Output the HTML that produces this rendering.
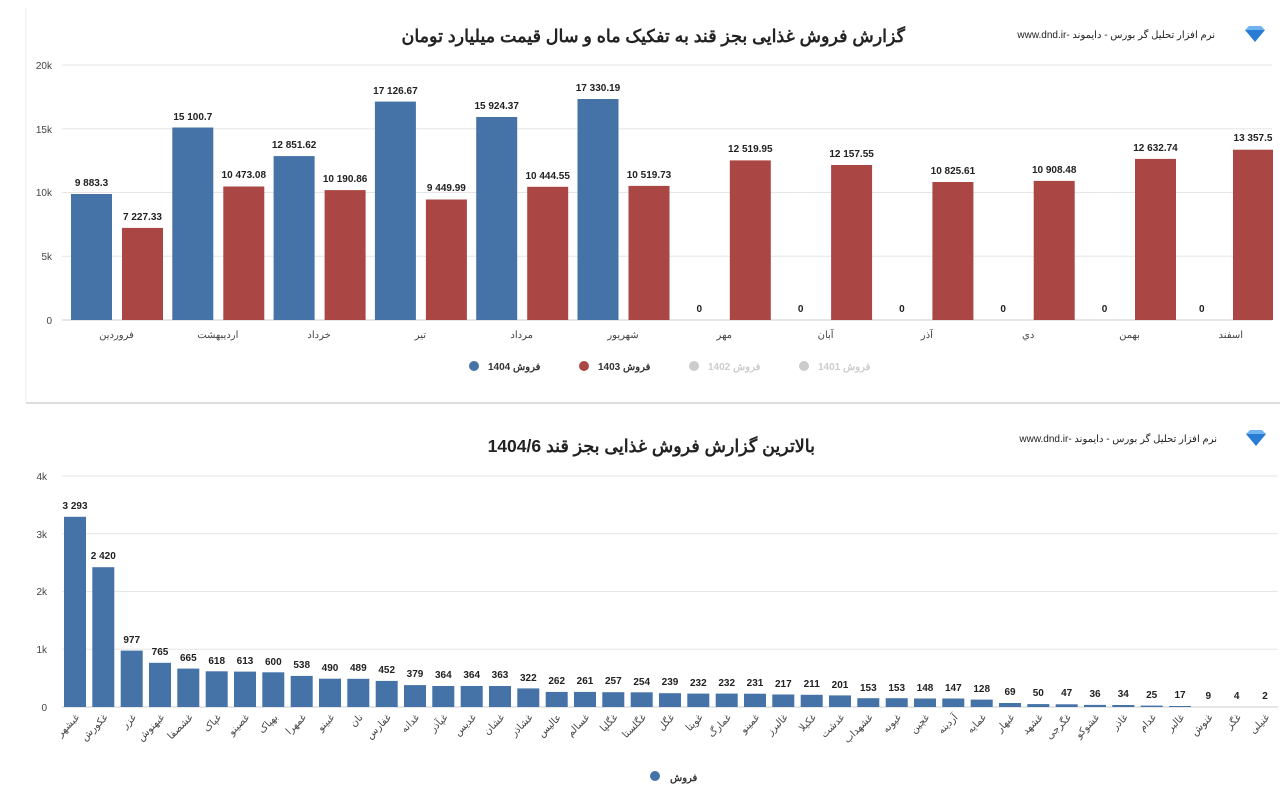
<!DOCTYPE html>
<html><head><meta charset="utf-8">
<style>
body{margin:0;background:#fff;width:1280px;height:804px;overflow:hidden;font-family:"Liberation Sans","Noto Sans CJK SC",sans-serif}
svg{display:block}
.t{font-size:17.5px;font-weight:bold;fill:#222}
.s{font-size:10px;fill:#222}
.v{font-size:10px;font-weight:bold;fill:#222;text-anchor:middle}
.c{font-size:10px;fill:#444;text-anchor:middle}
.y{font-size:10px;fill:#444;text-anchor:end}
.l{font-size:10px;fill:#444;text-anchor:end}
.g{stroke:#e6e6e6;stroke-width:1}
</style></head><body>
<svg width="1280" height="804" xmlns="http://www.w3.org/2000/svg">
<rect x="26" y="8" width="1254" height="394" fill="#fff"/>
<line x1="26" y1="403" x2="1280" y2="403" stroke="#ddd" stroke-width="2"/>
<line x1="26" y1="8" x2="26" y2="402" stroke="#eee"/>
<text class="t" x="905" y="42" text-anchor="start" direction="rtl">گزارش فروش غذایی بجز قند به تفکیک ماه و سال قیمت میلیارد تومان</text>
<text class="s" x="1215" y="38" text-anchor="start" direction="rtl">نرم افزار تحلیل گر بورس - دایموند -www.dnd.ir</text>
<polygon points="1245,30 1265,30 1255,42" fill="#2a7bd4"/><polygon points="1245,30 1249,26 1261,26 1265,30" fill="#6fb3f0"/>
<g class="g"><line x1="62" y1="65" x2="1272" y2="65"/><line x1="62" y1="128.75" x2="1272" y2="128.75"/><line x1="62" y1="192.5" x2="1272" y2="192.5"/><line x1="62" y1="256.25" x2="1272" y2="256.25"/><line x1="62" y1="320" x2="1272" y2="320" stroke="#ccc"/></g>
<g class="y"><text x="52" y="69">20k</text><text x="52" y="133">15k</text><text x="52" y="196">10k</text><text x="52" y="260">5k</text><text x="52" y="324">0</text></g>
<g fill="#4572a7">
<rect x="71" y="194" width="41" height="126"/><rect x="172.3" y="127.5" width="41" height="192.5"/><rect x="273.6" y="156.1" width="41" height="163.9"/><rect x="374.9" y="101.6" width="41" height="218.4"/><rect x="476.2" y="117" width="41" height="203"/><rect x="577.5" y="99" width="41" height="221"/>
</g>
<g fill="#aa4643">
<rect x="122" y="227.9" width="41" height="92.1"/><rect x="223.3" y="186.5" width="41" height="133.5"/><rect x="324.6" y="190.1" width="41" height="129.9"/><rect x="425.9" y="199.5" width="41" height="120.5"/><rect x="527.2" y="186.8" width="41" height="133.2"/><rect x="628.5" y="185.9" width="41" height="134.1"/><rect x="729.8" y="160.4" width="41" height="159.6"/><rect x="831.1" y="165" width="41" height="155"/><rect x="932.4" y="182" width="41" height="138"/><rect x="1033.7" y="180.9" width="41" height="139.1"/><rect x="1135" y="158.9" width="41" height="161.1"/><rect x="1233" y="149.7" width="40" height="170.3"/>
</g>
<g class="v">
<text x="91.5" y="186">9 883.3</text><text x="142.5" y="220">7 227.33</text>
<text x="192.8" y="120">15 100.7</text><text x="243.8" y="178">10 473.08</text>
<text x="294.1" y="148">12 851.62</text><text x="345.1" y="182">10 190.86</text>
<text x="395.4" y="94">17 126.67</text><text x="446.4" y="191">9 449.99</text>
<text x="496.7" y="109">15 924.37</text><text x="547.7" y="179">10 444.55</text>
<text x="598" y="91">17 330.19</text><text x="649" y="178">10 519.73</text>
<text x="699.3" y="312">0</text><text x="750.3" y="152">12 519.95</text>
<text x="800.6" y="312">0</text><text x="851.6" y="157">12 157.55</text>
<text x="901.9" y="312">0</text><text x="952.9" y="174">10 825.61</text>
<text x="1003.2" y="312">0</text><text x="1054.2" y="173">10 908.48</text>
<text x="1104.5" y="312">0</text><text x="1155.5" y="151">12 632.74</text>
<text x="1201.8" y="312">0</text><text x="1253" y="141">13 357.5</text>
</g>
<g class="c">
<text x="116.5" y="338">فروردین</text><text x="217.8" y="338">اردیبهشت</text><text x="319.1" y="338">خرداد</text><text x="420.4" y="338">تیر</text><text x="521.7" y="338">مرداد</text><text x="623" y="338">شهریور</text><text x="724.3" y="338">مهر</text><text x="825.6" y="338">آبان</text><text x="926.9" y="338">آذر</text><text x="1028.2" y="338">دي</text><text x="1129.5" y="338">بهمن</text><text x="1230.8" y="338">اسفند</text>
</g>
<g font-size="10" font-weight="bold" text-anchor="start">
<circle cx="474" cy="366" r="5" fill="#4572a7"/><text x="488" y="370" fill="#333">فروش 1404</text>
<circle cx="584" cy="366" r="5" fill="#aa4643"/><text x="598" y="370" fill="#333">فروش 1403</text>
<circle cx="694" cy="366" r="5" fill="#ccc"/><text x="708" y="370" fill="#ccc">فروش 1402</text>
<circle cx="804" cy="366" r="5" fill="#ccc"/><text x="818" y="370" fill="#ccc">فروش 1401</text>
</g>
<text class="t" x="815" y="452" text-anchor="start" direction="rtl">بالاترین گزارش فروش غذایی بجز قند 1404/6</text>
<text class="s" x="1217" y="442" text-anchor="start" direction="rtl">نرم افزار تحلیل گر بورس - دایموند -www.dnd.ir</text>
<polygon points="1246,434 1266,434 1256,446" fill="#2a7bd4"/><polygon points="1246,434 1250,430 1262,430 1266,434" fill="#6fb3f0"/>
<g class="g"><line x1="62" y1="476" x2="1278" y2="476"/><line x1="62" y1="533.7" x2="1278" y2="533.7"/><line x1="62" y1="591.5" x2="1278" y2="591.5"/><line x1="62" y1="649.2" x2="1278" y2="649.2"/><line x1="62" y1="707" x2="1278" y2="707" stroke="#ccc"/></g>
<g class="y"><text x="47" y="480">4k</text><text x="47" y="538">3k</text><text x="47" y="595">2k</text><text x="47" y="653">1k</text><text x="47" y="711">0</text></g>
<g fill="#4572a7">
<rect x="64" y="516.8" width="22" height="190.2"/><rect x="92.3" y="567.2" width="22" height="139.8"/><rect x="120.7" y="650.6" width="22" height="56.4"/><rect x="149" y="662.8" width="22" height="44.2"/><rect x="177.3" y="668.6" width="22" height="38.4"/><rect x="205.7" y="671.3" width="22" height="35.7"/><rect x="234" y="671.6" width="22" height="35.4"/><rect x="262.3" y="672.3" width="22" height="34.7"/><rect x="290.7" y="675.9" width="22" height="31.1"/><rect x="319" y="678.7" width="22" height="28.3"/><rect x="347.3" y="678.8" width="22" height="28.2"/><rect x="375.7" y="680.9" width="22" height="26.1"/><rect x="404" y="685.1" width="22" height="21.9"/><rect x="432.3" y="686" width="22" height="21"/><rect x="460.7" y="686" width="22" height="21"/><rect x="489" y="686" width="22" height="21"/><rect x="517.3" y="688.4" width="22" height="18.6"/><rect x="545.7" y="691.9" width="22" height="15.1"/><rect x="574" y="691.9" width="22" height="15.1"/><rect x="602.3" y="692.2" width="22" height="14.8"/><rect x="630.7" y="692.3" width="22" height="14.7"/><rect x="659" y="693.2" width="22" height="13.8"/><rect x="687.3" y="693.6" width="22" height="13.4"/><rect x="715.7" y="693.6" width="22" height="13.4"/><rect x="744" y="693.7" width="22" height="13.3"/><rect x="772.3" y="694.5" width="22" height="12.5"/><rect x="800.7" y="694.8" width="22" height="12.2"/><rect x="829" y="695.4" width="22" height="11.6"/><rect x="857.3" y="698.2" width="22" height="8.8"/><rect x="885.7" y="698.2" width="22" height="8.8"/><rect x="914" y="698.5" width="22" height="8.5"/><rect x="942.3" y="698.5" width="22" height="8.5"/><rect x="970.7" y="699.6" width="22" height="7.4"/><rect x="999" y="703" width="22" height="4"/><rect x="1027.3" y="704.1" width="22" height="2.9"/><rect x="1055.7" y="704.3" width="22" height="2.7"/><rect x="1084" y="704.9" width="22" height="2.1"/><rect x="1112.3" y="705" width="22" height="2"/><rect x="1140.7" y="705.6" width="22" height="1.4"/><rect x="1169" y="706" width="22" height="1"/>
</g>
<g class="v">
<text x="75" y="509">3 293</text><text x="103.3" y="559">2 420</text><text x="131.7" y="643">977</text><text x="160" y="655">765</text><text x="188.3" y="661">665</text><text x="216.7" y="664">618</text><text x="245" y="664">613</text><text x="273.3" y="665">600</text><text x="301.7" y="668">538</text><text x="330" y="671">490</text><text x="358.3" y="671">489</text><text x="386.7" y="673">452</text><text x="415" y="677">379</text><text x="443.3" y="678">364</text><text x="471.7" y="678">364</text><text x="500" y="678">363</text><text x="528.3" y="681">322</text><text x="556.7" y="684">262</text><text x="585" y="684">261</text><text x="613.3" y="684">257</text><text x="641.7" y="685">254</text><text x="670" y="685">239</text><text x="698.3" y="686">232</text><text x="726.7" y="686">232</text><text x="755" y="686">231</text><text x="783.3" y="687">217</text><text x="811.7" y="687">211</text><text x="840" y="688">201</text><text x="868.3" y="691">153</text><text x="896.7" y="691">153</text><text x="925" y="691">148</text><text x="953.3" y="691">147</text><text x="981.7" y="692">128</text><text x="1010" y="695">69</text><text x="1038.3" y="696">50</text><text x="1066.7" y="696">47</text><text x="1095" y="697">36</text><text x="1123.3" y="697">34</text><text x="1151.7" y="698">25</text><text x="1180" y="698">17</text><text x="1208.3" y="699">9</text><text x="1236.7" y="699">4</text><text x="1265" y="699">2</text>
</g>
<g class="l">
<text transform="translate(80,718) rotate(-45)">غبشهر</text><text transform="translate(108.3,718) rotate(-45)">غکورش</text><text transform="translate(136.7,718) rotate(-45)">غزر</text><text transform="translate(165,718) rotate(-45)">غبهنوش</text><text transform="translate(193.3,718) rotate(-45)">غشصفا</text><text transform="translate(221.7,718) rotate(-45)">غپاک</text><text transform="translate(250,718) rotate(-45)">غصینو</text><text transform="translate(278.3,718) rotate(-45)">بهپاک</text><text transform="translate(306.7,718) rotate(-45)">غمهرا</text><text transform="translate(335,718) rotate(-45)">غبینو</text><text transform="translate(363.3,718) rotate(-45)">نان</text><text transform="translate(391.7,718) rotate(-45)">غفارس</text><text transform="translate(420,718) rotate(-45)">غدانه</text><text transform="translate(448.3,718) rotate(-45)">غپآذر</text><text transform="translate(476.7,718) rotate(-45)">غدیس</text><text transform="translate(505,718) rotate(-45)">غشان</text><text transform="translate(533.3,718) rotate(-45)">غشاذر</text><text transform="translate(561.7,718) rotate(-45)">عالیس</text><text transform="translate(590,718) rotate(-45)">غسالم</text><text transform="translate(618.3,718) rotate(-45)">غگلپا</text><text transform="translate(646.7,718) rotate(-45)">غگلستا</text><text transform="translate(675,718) rotate(-45)">غگل</text><text transform="translate(703.3,718) rotate(-45)">غویتا</text><text transform="translate(731.7,718) rotate(-45)">غمارگ</text><text transform="translate(760,718) rotate(-45)">غمینو</text><text transform="translate(788.3,718) rotate(-45)">غالبرز</text><text transform="translate(816.7,718) rotate(-45)">غکیلا</text><text transform="translate(845,718) rotate(-45)">غدشت</text><text transform="translate(873.3,718) rotate(-45)">غشهداب</text><text transform="translate(901.7,718) rotate(-45)">غیونه</text><text transform="translate(930,718) rotate(-45)">غچین</text><text transform="translate(958.3,718) rotate(-45)">آردینه</text><text transform="translate(986.7,718) rotate(-45)">غمایه</text><text transform="translate(1015,718) rotate(-45)">غبهار</text><text transform="translate(1043.3,718) rotate(-45)">غشهد</text><text transform="translate(1071.7,718) rotate(-45)">غگرجی</text><text transform="translate(1100,718) rotate(-45)">غشوکو</text><text transform="translate(1128.3,718) rotate(-45)">غاذر</text><text transform="translate(1156.7,718) rotate(-45)">غدام</text><text transform="translate(1185,718) rotate(-45)">غالبر</text><text transform="translate(1213.3,718) rotate(-45)">غنوش</text><text transform="translate(1241.7,718) rotate(-45)">غگز</text><text transform="translate(1270,718) rotate(-45)">غنیلی</text>
</g>
<circle cx="655" cy="776" r="5" fill="#4572a7"/><text x="670" y="781" font-size="10" font-weight="bold" fill="#333" text-anchor="start">فروش</text>
</svg>
</body></html>
